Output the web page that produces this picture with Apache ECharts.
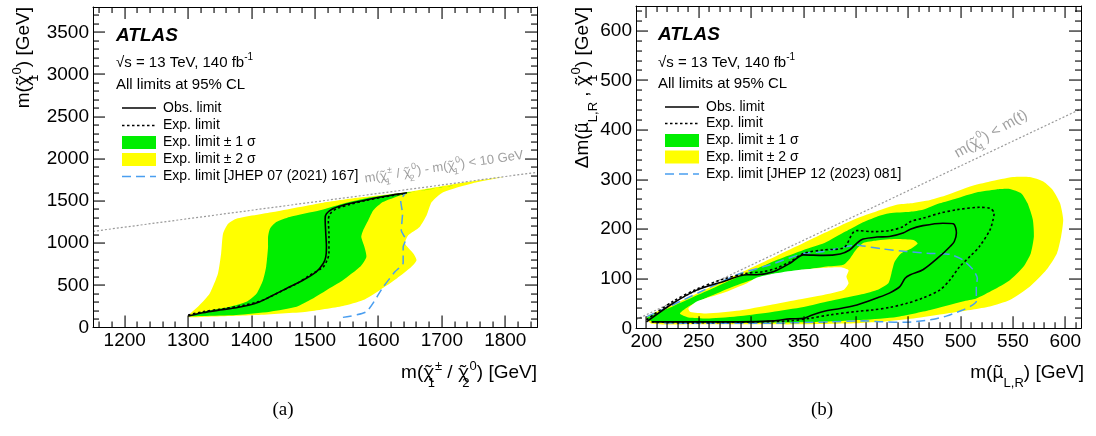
<!DOCTYPE html>
<html><head><meta charset="utf-8">
<script src="https://cdn.jsdelivr.net/npm/echarts@6/dist/echarts.min.js"></script>
<style>html,body{margin:0;padding:0;background:#fff}#c{width:1096px;height:436px}</style>
</head><body><div id="c"></div>
<script>
// ---------- tick values ----------
const xTicksL = [1200, 1300, 1400, 1500, 1600, 1700, 1800];
const yTicksL = [0, 500, 1000, 1500, 2000, 2500, 3000, 3500];
const xTicksR = [200, 250, 300, 350, 400, 450, 500, 550, 600];
const yTicksR = [0, 100, 200, 300, 400, 500, 600];

// ---------- panel (a): chargino / neutralino ----------
const leftDiag = [[1150, 1140], [1850, 1840]];
const leftYellow = [[1300,128],[1318,266],[1334,404],[1347,640],[1352,877],[1355,1113],[1363,1231],[1376,1290],[1434,1369],[1513,1480],[1576,1546],[1644,1605],[1723,1704],[1797,1783],[1749,1711],[1702,1605],[1684,1487],[1676,1330],[1665,1192],[1647,1093],[1642,995],[1655,877],[1660,798],[1652,719],[1629,581],[1602,443],[1576,325],[1544,254],[1487,187],[1408,148],[1329,128]];
const leftGreen = [[1300,136],[1323,187],[1366,246],[1392,305],[1408,404],[1418,561],[1423,719],[1426,955],[1426,1073],[1429,1172],[1439,1251],[1460,1310],[1508,1389],[1544,1468],[1586,1540],[1628,1586],[1670,1625],[1718,1684],[1650,1602],[1634,1566],[1607,1487],[1592,1389],[1584,1271],[1576,1152],[1573,1073],[1578,955],[1581,837],[1571,719],[1544,561],[1518,443],[1492,325],[1471,246],[1429,187],[1376,148],[1323,136]];
const leftObs = [[1300,136],[1323,175],[1350,207],[1376,234],[1397,266],[1413,305],[1429,364],[1455,463],[1481,561],[1502,660],[1513,759],[1517,837],[1518,955],[1517,1113],[1516,1290],[1518,1349],[1528,1408],[1544,1448],[1565,1487],[1597,1539],[1628,1578],[1645,1598]];
const leftExp = [[1300,148],[1323,187],[1355,222],[1387,262],[1408,300],[1423,340],[1444,420],[1471,520],[1492,620],[1513,719],[1519,798],[1522,877],[1522,1113],[1521,1271],[1524,1349],[1534,1408],[1555,1459],[1581,1507],[1607,1546],[1639,1586]];
const leftJhep = [[1544,120],[1581,187],[1607,475],[1626,660],[1639,766],[1639,955],[1643,1042],[1636,1152],[1638,1349],[1635,1507],[1643,1594]];

// ---------- panel (b): smuon ----------
const rightDiag = [[190, 17.5], [615, 442.5]];
const rightYellowOuter = [[200,23],[225,47],[250,72],[275,97],[300,122],[325,147],[350,172],[375,197],[400,221],[420,236],[439,249],[452,252],[471,259],[487,269],[509,286],[528,296],[550,305],[566,305],[579,296],[588,279],[595,252],[598,219],[596,185],[592,151],[582,118],[566,84],[547,57],[528,44],[512,38],[487,30],[455,20],[423,13],[400,10],[350,8],[300,8],[250,8],[205,9]];
const rightGreen = [[200,20],[225,44],[250,68],[275,92],[300,115],[325,138],[350,158],[370,172],[390,195],[405,212],[420,225],[432,232],[452,235],[464,239],[480,252],[496,262],[515,274],[534,280],[547,281],[558,272],[564,252],[569,219],[570,185],[567,151],[560,124],[547,97],[531,77],[515,60],[502,54],[471,37],[439,23],[407,17],[380,14],[350,12],[300,11],[250,11],[210,12]];
const rightYellowInner = [[232,30],[241,45],[260,64],[280,82],[300,97],[320,106],[343,115],[370,124],[388,128],[394,140],[400,158],[407,172],[420,177],[438,180],[455,178],[459,171],[453,161],[443,151],[437,134],[434,111],[431,91],[420,77],[407,69],[391,62],[375,55],[350,43],[320,33],[290,25],[260,20],[240,22]];
const rightWhite = [[240,40],[248,54],[273,71],[296,91],[305,102],[321,110],[343,117],[369,122],[386,123],[393,117],[391,104],[393,91],[388,77],[369,67],[343,57],[318,47],[289,36],[257,30],[242,33]];
const rightObs = [[200,13],[225,50],[248,77],[273,94],[296,108],[305,108],[321,114],[337,131],[350,148],[369,147],[385,150],[394,158],[401,172],[407,180],[420,184],[432,185],[445,192],[452,200],[464,207],[483,212],[493,211],[496,192],[494,175],[490,165],[480,145],[464,118],[452,108],[447,101],[442,84],[432,71],[420,61],[401,47],[385,40],[369,34],[356,25],[350,20],[337,19],[321,15],[289,13],[241,13],[205,13]];
const rightExp = [[200,17],[225,54],[248,79],[273,99],[296,111],[311,114],[324,121],[337,134],[350,151],[369,158],[388,162],[397,192],[401,197],[416,195],[432,197],[445,205],[452,215],[464,222],[480,232],[496,239],[518,244],[528,242],[532,232],[531,219],[528,198],[518,165],[509,145],[499,124],[490,98],[480,77],[464,61],[448,50],[432,42],[416,37],[401,34],[375,27],[356,20],[337,15],[305,13],[241,11],[205,13]];
const rightJhep = [[200,23],[232,54],[260,82],[289,110],[318,128],[350,151],[369,155],[401,168],[407,166],[426,160],[448,155],[471,151],[490,149],[502,138],[512,118],[516,101],[515,84],[515,54],[510,45],[502,37],[487,25],[471,17],[448,12],[426,13],[407,15],[375,13],[311,10],[248,10],[210,11]];

const F = '"Liberation Sans", Arial, Helvetica, sans-serif';
const FG = '"Noto Sans", "DejaVu Sans", sans-serif';
const GREEN = '#00ee00', YELLOW = '#ffff00', BLUE = '#4a9ef0';

function minorList(min, max, step, majors) {
  const out = [];
  for (let v = Math.ceil(min / step) * step; v <= max + 1e-9; v += step) {
    if (majors.indexOf(v) < 0 && v > min && v < max) out.push(v);
  }
  return out;
}

function axisPair(grid, min, max, majors, isX) {
  const base = {gridIndex: grid, type: 'value', min: min, max: max, z: 10, splitLine: {show: false},
                axisTick: {show: false}};
  const line = {show: true, onZero: false, lineStyle: {color: '#000', width: 1}};
  return [
    Object.assign({}, base, {position: isX ? 'bottom' : 'left', axisLine: line,
      axisLabel: {show: true, customValues: majors, fontSize: 19, color: '#000', fontFamily: F, margin: 4,
                  formatter: function (v) { return String(v); }}}),
    Object.assign({}, base, {position: isX ? 'top' : 'right', axisLine: line, axisLabel: {show: false}})
  ];
}

function poly(pts, color, xi, yi, z) {
  return {
    type: 'custom', xAxisIndex: xi, yAxisIndex: yi, z: z, silent: true, clip: true, data: pts,
    renderItem: function (params, api) {
      if (params.dataIndex !== 0) return null;
      return {type: 'polygon', shape: {points: pts.map(function (p) { return api.coord(p); }), smooth: 0.2},
              style: {fill: color, stroke: null}};
    }
  };
}
function line(pts, color, width, type, xi, yi, z, smooth) {
  return {type: 'line', xAxisIndex: xi, yAxisIndex: yi, z: z, data: pts, symbol: 'none', showSymbol: false,
          smooth: smooth, silent: true, clip: true,
          lineStyle: {color: color, width: width, type: type}};
}

// tick marks: one item per tick, anchored on the frame in data space, drawn as a thin filled polygon
// item = [x, y, direction(0 up,1 down,2 right,3 left), length px]
function tickItems(xr, yr, xMaj, xStep, yMaj, yStep) {
  const out = [];
  function xt(v, len) { out.push([v, yr[0], 0, len]); out.push([v, yr[1], 1, len]); }
  function yt(v, len) { out.push([xr[0], v, 2, len]); out.push([xr[1], v, 3, len]); }
  xMaj.forEach(function (v) { xt(v, 12); });
  minorList(xr[0], xr[1], xStep, xMaj).forEach(function (v) { xt(v, 6); });
  yMaj.forEach(function (v) { if (v > yr[0]) yt(v, 12); });
  minorList(yr[0], yr[1], yStep, yMaj).forEach(function (v) { yt(v, 6); });
  return out;
}
function tickSeries(items, xi, yi) {
  return {
    type: 'custom', xAxisIndex: xi, yAxisIndex: yi, z: 9, silent: true, clip: false, data: items,
    dimensions: ['x', 'y', 'd', 'l'], encode: {x: 0, y: 1},
    renderItem: function (params, api) {
      const p = api.coord([api.value(0), api.value(1)]);
      const d = api.value(2), L = api.value(3);
      let x0, y0, x1, y1;
      if (d === 0 || d === 1) {
        x0 = Math.round(p[0]) - 0.5; x1 = x0 + 1.1;
        y0 = p[1]; y1 = d === 0 ? p[1] - L : p[1] + L;
      } else {
        y0 = Math.round(p[1]) - 0.5; y1 = y0 + 1.1;
        x0 = p[0]; x1 = d === 2 ? p[0] + L : p[0] - L;
      }
      return {type: 'polygon', shape: {points: [[x0, y0], [x1, y0], [x1, y1], [x0, y1]]},
              style: {fill: '#000', stroke: null}};
    }
  };
}

const xAxes = axisPair(0, 1150, 1850, xTicksL, true).concat(axisPair(1, 190, 615, xTicksR, true));
const yAxes = axisPair(0, 0, 3800, yTicksL, false).concat(axisPair(1, 0, 650, yTicksR, false));

const series = [
  poly(leftYellow, YELLOW, 0, 0, 1),
  poly(leftGreen, GREEN, 0, 0, 2),
  line(leftDiag, '#9a9a9a', 1.2, [2, 2], 0, 0, 5, false),
  line(leftJhep, BLUE, 1.5, [9, 5], 0, 0, 6, 0.2),
  line(leftExp, '#000', 1.6, [2.5, 2.5], 0, 0, 7, 0.3),
  line(leftObs, '#000', 1.6, 'solid', 0, 0, 8, 0.3),
  tickSeries(tickItems([1150, 1850], [0, 3800], xTicksL, 20, yTicksL, 100), 0, 0),

  poly(rightYellowOuter, YELLOW, 2, 2, 1),
  poly(rightGreen, GREEN, 2, 2, 2),
  poly(rightYellowInner, YELLOW, 2, 2, 3),
  poly(rightWhite, '#ffffff', 2, 2, 4),
  line(rightDiag, '#9a9a9a', 1.2, [2, 2], 2, 2, 5, false),
  line(rightJhep, BLUE, 1.5, [9, 5], 2, 2, 6, 0.2),
  line(rightExp, '#000', 1.6, [2.5, 2.5], 2, 2, 7, 0.3),
  line(rightObs, '#000', 1.6, 'solid', 2, 2, 8, 0.3),
  tickSeries(tickItems([190, 615], [0, 650], xTicksR, 10, yTicksR, 20), 2, 2)
];

// ---------- text ----------
function mk(size, fam, color, extra) {
  return Object.assign({fontSize: size, fontFamily: fam, fill: color, verticalAlign: 'middle'}, extra || {});
}
const RICH = {
  n:   mk(19, F, '#000', {lineHeight: 24}),
  c:   mk(18, FG, '#000', {lineHeight: 24}),
  sp:  mk(13, F, '#000', {lineHeight: 10, padding: [0, 0, 14, 0]}),
  sb0: mk(13, F, '#000', {lineHeight: 10, padding: [20, 0, 0, 0], width: 1}),
  sbl: mk(13, F, '#000', {lineHeight: 10, padding: [20, 0, 0, 0]}),
  g:   mk(13, F, '#a0a0a0', {lineHeight: 18}),
  gc:  mk(12.5, FG, '#a0a0a0', {lineHeight: 18}),
  gsp: mk(9, F, '#a0a0a0', {lineHeight: 8, padding: [0, 0, 10, 0]}),
  gsb: mk(9, F, '#a0a0a0', {lineHeight: 8, padding: [13, 0, 0, 0], width: 1}),
  G:   mk(15, F, '#a0a0a0', {lineHeight: 20}),
  Gc:  mk(14.5, FG, '#a0a0a0', {lineHeight: 20}),
  Gsp: mk(10, F, '#a0a0a0', {lineHeight: 8, padding: [0, 0, 11, 0]}),
  Gsb: mk(10, F, '#a0a0a0', {lineHeight: 8, padding: [15, 0, 0, 0], width: 1}),
  s:   mk(15, F, '#000', {lineHeight: 20}),
  ssp: mk(10, F, '#000', {lineHeight: 8, padding: [0, 0, 12, 0]})
};
function rt(x, y, text, align, rot) {
  return {type: 'text', x: x, y: y, rotation: rot || 0, z: 20, silent: true,
          style: {text: text, rich: RICH, textAlign: align, textVerticalAlign: 'middle', fill: '#000'}};
}
function plain(x, y, text, size, extra) {
  return {type: 'text', x: x, y: y, z: 20, silent: true,
          style: Object.assign({text: text, fontSize: size, fontFamily: F, fill: '#000', textAlign: 'left', textVerticalAlign: 'middle'}, extra || {})};
}
function legendBlock(x0, lx0, lx1, tx, ys, jhep) {
  const els = [];
  els.push(plain(x0, ys.atlas, 'ATLAS', 19, {fontWeight: 'bold', fontStyle: 'italic'}));
  els.push(rt(x0, ys.sqrt, '{s|√s = 13 TeV, 140 fb}{ssp|-1}', 'left'));
  els.push(plain(x0, ys.cl, 'All limits at 95% CL', 15));
  const e = ys.e;
  els.push({type: 'line', z: 20, silent: true, shape: {x1: lx0, y1: e[0], x2: lx1, y2: e[0]}, style: {stroke: '#000', lineWidth: 1.6}});
  els.push({type: 'line', z: 20, silent: true, shape: {x1: lx0, y1: e[1], x2: lx1, y2: e[1]}, style: {stroke: '#000', lineWidth: 1.6, lineDash: [2.5, 2.5]}});
  els.push({type: 'rect', z: 20, silent: true, shape: {x: lx0, y: e[2] - 6.5, width: lx1 - lx0, height: 13}, style: {fill: GREEN}});
  els.push({type: 'rect', z: 20, silent: true, shape: {x: lx0, y: e[3] - 6.5, width: lx1 - lx0, height: 13}, style: {fill: YELLOW}});
  els.push({type: 'line', z: 20, silent: true, shape: {x1: lx0, y1: e[4], x2: lx1, y2: e[4]}, style: {stroke: BLUE, lineWidth: 1.5, lineDash: [9, 5]}});
  const labels = ['Obs. limit', 'Exp. limit', 'Exp. limit ± 1 σ', 'Exp. limit ± 2 σ', jhep];
  labels.forEach(function (t, i) { els.push(plain(tx, e[i], t, 14)); });
  return els;
}

const graphics = []
  .concat(legendBlock(116, 122, 156, 163, {atlas: 36, sqrt: 63, cl: 85, e: [108, 125.5, 142.5, 159.5, 176.5]}, 'Exp. limit [JHEP 07 (2021) 167]'))
  .concat(legendBlock(658, 665, 699, 706, {atlas: 35, sqrt: 63, cl: 84, e: [107, 123.5, 140.5, 157, 174]}, 'Exp. limit [JHEP 12 (2023) 081]'))
  .concat([
    rt(537, 373, '{n|m(}{c|χ̃}{sb0|1}{sp|±}{n| / }{c|χ̃}{sb0|2}{sp|0}{n|) [GeV]}', 'right'),
    rt(24, 7, '{n|m(}{c|χ̃}{sb0|1}{sp|0}{n|) [GeV]}', 'right', Math.PI / 2),
    rt(1084, 373, '{n|m(}{c|μ̃}{sbl|L,R}{n|) [GeV]}', 'right'),
    rt(583, 7, '{n|Δm(}{c|μ̃}{sbl|L,R}{n| , }{c|χ̃}{sb0|1}{sp|0}{n|) [GeV]}', 'right', Math.PI / 2),
    rt(444, 167, '{g|m(}{gc|χ̃}{gsb|1}{gsp|±}{g| / }{gc|χ̃}{gsb|2}{gsp|0}{g|) - m(}{gc|χ̃}{gsb|1}{gsp|0}{g|) < 10 GeV}', 'center', 8.5 * Math.PI / 180),
    rt(991, 134, '{G|m(}{Gc|χ̃}{Gsb|1}{Gsp|0}{G|) < m(t)}', 'center', 30 * Math.PI / 180),
    {type: 'text', x: 283, y: 410, z: 20, style: {text: '(a)', fontSize: 19, fontFamily: '"Liberation Serif", "Times New Roman", serif', fill: '#000', textAlign: 'center', textVerticalAlign: 'middle'}},
    {type: 'text', x: 822, y: 410, z: 20, style: {text: '(b)', fontSize: 19, fontFamily: '"Liberation Serif", "Times New Roman", serif', fill: '#000', textAlign: 'center', textVerticalAlign: 'middle'}}
  ]);

const chart = echarts.init(document.getElementById('c'), null, {renderer: 'canvas'});
chart.setOption({
  animation: false,
  backgroundColor: '#ffffff',
  grid: [
    {left: 93, top: 7, width: 444, height: 320.5, containLabel: false},
    {left: 636, top: 6, width: 445, height: 322.3, containLabel: false}
  ],
  xAxis: xAxes,
  yAxis: yAxes,
  series: series,
  graphic: {elements: graphics}
});
</script></body></html>
